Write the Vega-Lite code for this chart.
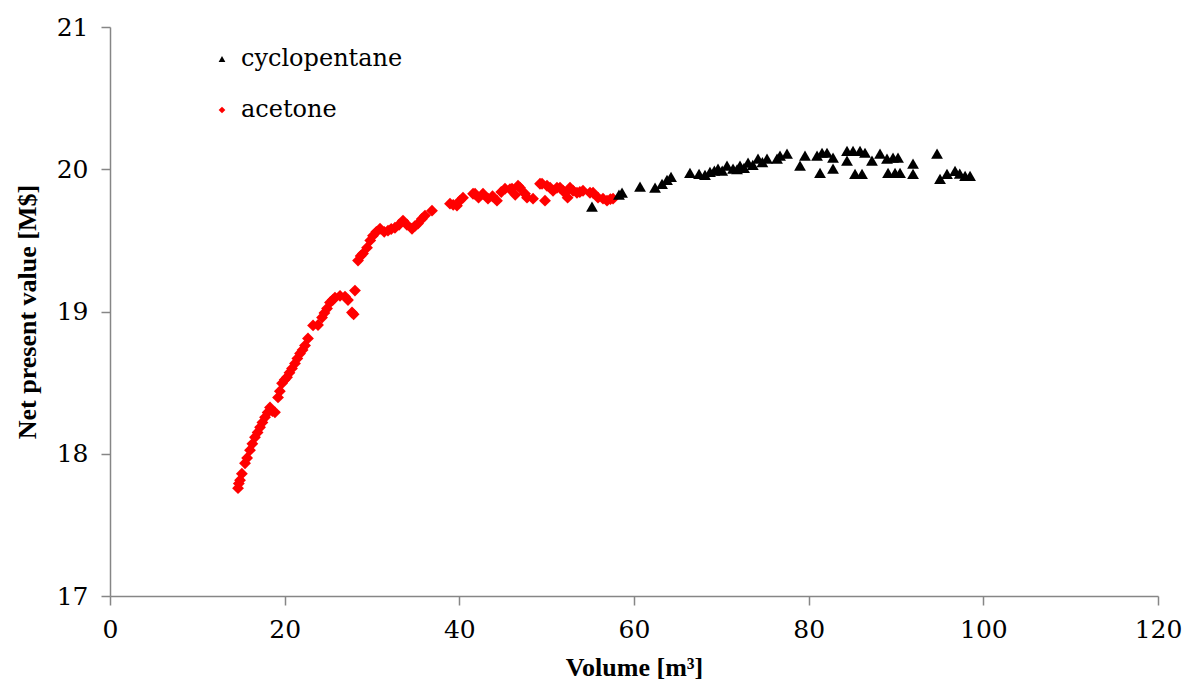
{
  "$schema": "https://vega.github.io/schema/vega-lite/v6.json",
  "autosize": "none",
  "width": 1048,
  "height": 569,
  "padding": {"left": 110, "top": 27, "right": 28, "bottom": 93},
  "background": "white",
  "config": {"view": {"stroke": null}, "font": "DejaVu Serif"},
  "data": {"values": [
    {"fluid": "acetone", "volume": 14.66, "npv": 17.758},
    {"fluid": "acetone", "volume": 14.75, "npv": 17.79},
    {"fluid": "acetone", "volume": 14.89, "npv": 17.814},
    {"fluid": "acetone", "volume": 15.1, "npv": 17.86},
    {"fluid": "acetone", "volume": 15.46, "npv": 17.933},
    {"fluid": "acetone", "volume": 15.7, "npv": 17.97},
    {"fluid": "acetone", "volume": 16.03, "npv": 18.025},
    {"fluid": "acetone", "volume": 16.3, "npv": 18.07},
    {"fluid": "acetone", "volume": 16.6, "npv": 18.116},
    {"fluid": "acetone", "volume": 16.9, "npv": 18.15},
    {"fluid": "acetone", "volume": 17.18, "npv": 18.186},
    {"fluid": "acetone", "volume": 17.45, "npv": 18.22},
    {"fluid": "acetone", "volume": 17.75, "npv": 18.256},
    {"fluid": "acetone", "volume": 18.05, "npv": 18.29},
    {"fluid": "acetone", "volume": 18.32, "npv": 18.326},
    {"fluid": "acetone", "volume": 18.6, "npv": 18.30},
    {"fluid": "acetone", "volume": 18.89, "npv": 18.291},
    {"fluid": "acetone", "volume": 19.24, "npv": 18.396},
    {"fluid": "acetone", "volume": 19.45, "npv": 18.44},
    {"fluid": "acetone", "volume": 19.7, "npv": 18.495},
    {"fluid": "acetone", "volume": 20.0, "npv": 18.52},
    {"fluid": "acetone", "volume": 20.27, "npv": 18.537},
    {"fluid": "acetone", "volume": 20.55, "npv": 18.57},
    {"fluid": "acetone", "volume": 20.84, "npv": 18.6},
    {"fluid": "acetone", "volume": 21.18, "npv": 18.635},
    {"fluid": "acetone", "volume": 21.45, "npv": 18.67},
    {"fluid": "acetone", "volume": 21.76, "npv": 18.705},
    {"fluid": "acetone", "volume": 22.05, "npv": 18.73},
    {"fluid": "acetone", "volume": 22.33, "npv": 18.761},
    {"fluid": "acetone", "volume": 22.67, "npv": 18.811},
    {"fluid": "acetone", "volume": 23.25, "npv": 18.902},
    {"fluid": "acetone", "volume": 23.82, "npv": 18.905},
    {"fluid": "acetone", "volume": 24.28, "npv": 18.958},
    {"fluid": "acetone", "volume": 24.55, "npv": 18.99},
    {"fluid": "acetone", "volume": 24.85, "npv": 19.021},
    {"fluid": "acetone", "volume": 25.19, "npv": 19.063},
    {"fluid": "acetone", "volume": 25.5, "npv": 19.08},
    {"fluid": "acetone", "volume": 25.76, "npv": 19.098},
    {"fluid": "acetone", "volume": 26.34, "npv": 19.11},
    {"fluid": "acetone", "volume": 26.91, "npv": 19.105},
    {"fluid": "acetone", "volume": 27.25, "npv": 19.08},
    {"fluid": "acetone", "volume": 27.71, "npv": 18.993},
    {"fluid": "acetone", "volume": 27.9, "npv": 18.98},
    {"fluid": "acetone", "volume": 28.05, "npv": 19.147},
    {"fluid": "acetone", "volume": 28.4, "npv": 19.358},
    {"fluid": "acetone", "volume": 28.7, "npv": 19.39},
    {"fluid": "acetone", "volume": 28.97, "npv": 19.407},
    {"fluid": "acetone", "volume": 29.43, "npv": 19.449},
    {"fluid": "acetone", "volume": 29.8, "npv": 19.5},
    {"fluid": "acetone", "volume": 30.11, "npv": 19.533},
    {"fluid": "acetone", "volume": 30.5, "npv": 19.56},
    {"fluid": "acetone", "volume": 30.92, "npv": 19.582},
    {"fluid": "acetone", "volume": 31.4, "npv": 19.56},
    {"fluid": "acetone", "volume": 31.83, "npv": 19.568},
    {"fluid": "acetone", "volume": 32.2, "npv": 19.58},
    {"fluid": "acetone", "volume": 32.63, "npv": 19.589},
    {"fluid": "acetone", "volume": 33.1, "npv": 19.61},
    {"fluid": "acetone", "volume": 33.55, "npv": 19.639},
    {"fluid": "acetone", "volume": 34.0, "npv": 19.61},
    {"fluid": "acetone", "volume": 34.58, "npv": 19.582},
    {"fluid": "acetone", "volume": 34.9, "npv": 19.6},
    {"fluid": "acetone", "volume": 35.27, "npv": 19.618},
    {"fluid": "acetone", "volume": 35.7, "npv": 19.65},
    {"fluid": "acetone", "volume": 36.07, "npv": 19.674},
    {"fluid": "acetone", "volume": 36.87, "npv": 19.709},
    {"fluid": "acetone", "volume": 38.93, "npv": 19.758},
    {"fluid": "acetone", "volume": 39.3, "npv": 19.75},
    {"fluid": "acetone", "volume": 39.73, "npv": 19.744},
    {"fluid": "acetone", "volume": 40.08, "npv": 19.78},
    {"fluid": "acetone", "volume": 40.42, "npv": 19.80},
    {"fluid": "acetone", "volume": 41.57, "npv": 19.828},
    {"fluid": "acetone", "volume": 41.8, "npv": 19.828},
    {"fluid": "acetone", "volume": 42.2, "npv": 19.80},
    {"fluid": "acetone", "volume": 42.71, "npv": 19.828},
    {"fluid": "acetone", "volume": 43.28, "npv": 19.793},
    {"fluid": "acetone", "volume": 43.8, "npv": 19.81},
    {"fluid": "acetone", "volume": 44.31, "npv": 19.779},
    {"fluid": "acetone", "volume": 44.8, "npv": 19.84},
    {"fluid": "acetone", "volume": 45.23, "npv": 19.863},
    {"fluid": "acetone", "volume": 45.8, "npv": 19.86},
    {"fluid": "acetone", "volume": 46.03, "npv": 19.863},
    {"fluid": "acetone", "volume": 46.4, "npv": 19.82},
    {"fluid": "acetone", "volume": 46.72, "npv": 19.884},
    {"fluid": "acetone", "volume": 46.95, "npv": 19.87},
    {"fluid": "acetone", "volume": 47.52, "npv": 19.828},
    {"fluid": "acetone", "volume": 47.75, "npv": 19.80},
    {"fluid": "acetone", "volume": 48.44, "npv": 19.793},
    {"fluid": "acetone", "volume": 49.24, "npv": 19.898},
    {"fluid": "acetone", "volume": 49.47, "npv": 19.898},
    {"fluid": "acetone", "volume": 49.81, "npv": 19.779},
    {"fluid": "acetone", "volume": 50.04, "npv": 19.884},
    {"fluid": "acetone", "volume": 50.4, "npv": 19.87},
    {"fluid": "acetone", "volume": 50.73, "npv": 19.849},
    {"fluid": "acetone", "volume": 51.18, "npv": 19.87},
    {"fluid": "acetone", "volume": 51.53, "npv": 19.87},
    {"fluid": "acetone", "volume": 51.87, "npv": 19.849},
    {"fluid": "acetone", "volume": 52.1, "npv": 19.835},
    {"fluid": "acetone", "volume": 52.4, "npv": 19.80},
    {"fluid": "acetone", "volume": 52.67, "npv": 19.87},
    {"fluid": "acetone", "volume": 53.02, "npv": 19.849},
    {"fluid": "acetone", "volume": 53.47, "npv": 19.835},
    {"fluid": "acetone", "volume": 53.8, "npv": 19.84},
    {"fluid": "acetone", "volume": 54.16, "npv": 19.849},
    {"fluid": "acetone", "volume": 54.96, "npv": 19.835},
    {"fluid": "acetone", "volume": 55.31, "npv": 19.835},
    {"fluid": "acetone", "volume": 55.88, "npv": 19.80},
    {"fluid": "acetone", "volume": 56.45, "npv": 19.793},
    {"fluid": "acetone", "volume": 56.91, "npv": 19.779},
    {"fluid": "acetone", "volume": 57.3, "npv": 19.79},
    {"fluid": "acetone", "volume": 57.6, "npv": 19.793},
    {"fluid": "cyclopentane", "volume": 55.19, "npv": 19.737},
    {"fluid": "cyclopentane", "volume": 58.28, "npv": 19.821},
    {"fluid": "cyclopentane", "volume": 58.63, "npv": 19.835},
    {"fluid": "cyclopentane", "volume": 60.69, "npv": 19.877},
    {"fluid": "cyclopentane", "volume": 62.41, "npv": 19.87},
    {"fluid": "cyclopentane", "volume": 63.21, "npv": 19.898},
    {"fluid": "cyclopentane", "volume": 63.78, "npv": 19.926},
    {"fluid": "cyclopentane", "volume": 64.24, "npv": 19.947},
    {"fluid": "cyclopentane", "volume": 66.41, "npv": 19.975},
    {"fluid": "cyclopentane", "volume": 67.45, "npv": 19.968},
    {"fluid": "cyclopentane", "volume": 68.13, "npv": 19.961},
    {"fluid": "cyclopentane", "volume": 68.7, "npv": 19.982},
    {"fluid": "cyclopentane", "volume": 69.2, "npv": 19.99},
    {"fluid": "cyclopentane", "volume": 69.62, "npv": 20.004},
    {"fluid": "cyclopentane", "volume": 70.1, "npv": 19.99},
    {"fluid": "cyclopentane", "volume": 70.65, "npv": 20.025},
    {"fluid": "cyclopentane", "volume": 71.34, "npv": 20.004},
    {"fluid": "cyclopentane", "volume": 71.8, "npv": 20.0},
    {"fluid": "cyclopentane", "volume": 72.14, "npv": 20.025},
    {"fluid": "cyclopentane", "volume": 72.6, "npv": 20.01},
    {"fluid": "cyclopentane", "volume": 73.06, "npv": 20.046},
    {"fluid": "cyclopentane", "volume": 73.6, "npv": 20.03},
    {"fluid": "cyclopentane", "volume": 74.2, "npv": 20.074},
    {"fluid": "cyclopentane", "volume": 74.7, "npv": 20.05},
    {"fluid": "cyclopentane", "volume": 75.23, "npv": 20.074},
    {"fluid": "cyclopentane", "volume": 76.38, "npv": 20.074},
    {"fluid": "cyclopentane", "volume": 76.72, "npv": 20.095},
    {"fluid": "cyclopentane", "volume": 77.52, "npv": 20.109},
    {"fluid": "cyclopentane", "volume": 79.01, "npv": 20.025},
    {"fluid": "cyclopentane", "volume": 79.58, "npv": 20.095},
    {"fluid": "cyclopentane", "volume": 80.96, "npv": 20.095},
    {"fluid": "cyclopentane", "volume": 81.53, "npv": 20.116},
    {"fluid": "cyclopentane", "volume": 82.1, "npv": 20.116},
    {"fluid": "cyclopentane", "volume": 81.3, "npv": 19.975},
    {"fluid": "cyclopentane", "volume": 82.79, "npv": 20.081},
    {"fluid": "cyclopentane", "volume": 82.79, "npv": 20.004},
    {"fluid": "cyclopentane", "volume": 84.39, "npv": 20.13},
    {"fluid": "cyclopentane", "volume": 85.08, "npv": 20.13},
    {"fluid": "cyclopentane", "volume": 85.88, "npv": 20.13},
    {"fluid": "cyclopentane", "volume": 86.45, "npv": 20.116},
    {"fluid": "cyclopentane", "volume": 84.39, "npv": 20.06},
    {"fluid": "cyclopentane", "volume": 85.31, "npv": 19.968},
    {"fluid": "cyclopentane", "volume": 86.11, "npv": 19.968},
    {"fluid": "cyclopentane", "volume": 87.25, "npv": 20.06},
    {"fluid": "cyclopentane", "volume": 88.17, "npv": 20.109},
    {"fluid": "cyclopentane", "volume": 88.97, "npv": 20.074},
    {"fluid": "cyclopentane", "volume": 89.66, "npv": 20.081},
    {"fluid": "cyclopentane", "volume": 90.23, "npv": 20.081},
    {"fluid": "cyclopentane", "volume": 89.09, "npv": 19.975},
    {"fluid": "cyclopentane", "volume": 89.89, "npv": 19.975},
    {"fluid": "cyclopentane", "volume": 90.46, "npv": 19.975},
    {"fluid": "cyclopentane", "volume": 91.95, "npv": 20.039},
    {"fluid": "cyclopentane", "volume": 91.95, "npv": 19.968},
    {"fluid": "cyclopentane", "volume": 94.7, "npv": 20.109},
    {"fluid": "cyclopentane", "volume": 95.04, "npv": 19.933},
    {"fluid": "cyclopentane", "volume": 95.84, "npv": 19.968},
    {"fluid": "cyclopentane", "volume": 96.76, "npv": 19.989},
    {"fluid": "cyclopentane", "volume": 97.3, "npv": 19.97},
    {"fluid": "cyclopentane", "volume": 97.91, "npv": 19.954},
    {"fluid": "cyclopentane", "volume": 98.48, "npv": 19.954}
  ]},
  "mark": {"type": "point", "filled": true, "opacity": 1, "size": 140},
  "encoding": {
    "x": {
      "field": "volume", "type": "quantitative",
      "scale": {"domain": [0, 120], "nice": false},
      "axis": {
        "values": [0, 20, 40, 60, 80, 100, 120],
        "grid": false, "labelFlush": false,
        "title": "Volume [m³]",
        "domainColor": "#868686", "tickColor": "#868686", "domainWidth": 1.5, "tickWidth": 1.5,
        "tickSize": 9, "labelPadding": 12,
        "labelFont": "DejaVu Serif", "labelFontSize": 25, "labelColor": "black",
        "titleFont": "Times New Roman", "titleFontSize": 26, "titleFontWeight": "bold", "titleColor": "black",
        "titlePadding": 12
      }
    },
    "y": {
      "field": "npv", "type": "quantitative",
      "scale": {"domain": [17, 21], "nice": false, "zero": false},
      "axis": {
        "values": [17, 18, 19, 20, 21],
        "grid": false, "labelFlush": false,
        "title": "Net present value [M$]",
        "domainColor": "#868686", "tickColor": "#868686", "domainWidth": 1.5, "tickWidth": 1.5,
        "tickSize": 9, "labelPadding": 13,
        "labelFont": "DejaVu Serif", "labelFontSize": 25, "labelColor": "black",
        "titleFont": "Times New Roman", "titleFontSize": 26, "titleFontWeight": "bold", "titleColor": "black",
        "titlePadding": 16
      }
    },
    "color": {
      "field": "fluid", "type": "nominal",
      "scale": {"domain": ["cyclopentane", "acetone"], "range": ["black", "red"]},
      "legend": {
        "title": null, "orient": "none", "legendX": 100, "legendY": 20,
        "labelFont": "DejaVu Serif", "labelFontSize": 24, "labelColor": "black", "labelLimit": 400,
        "symbolSize": 45, "rowPadding": 27, "labelOffset": 7
      }
    },
    "shape": {
      "field": "fluid", "type": "nominal",
      "scale": {"domain": ["cyclopentane", "acetone"], "range": ["triangle-up", "diamond"]}
    }
  }
}
